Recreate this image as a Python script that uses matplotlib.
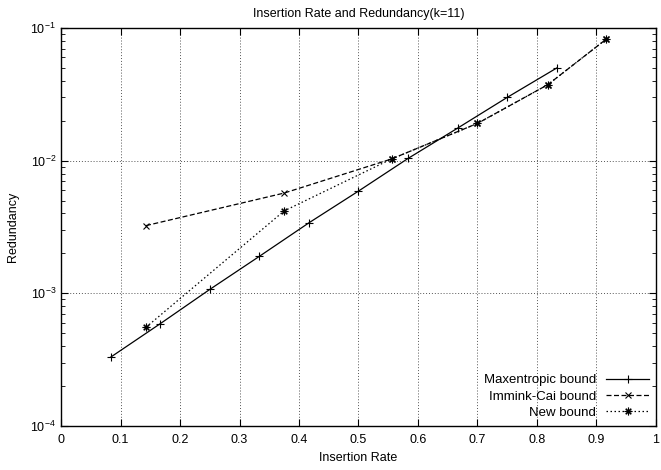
import numpy as np
import matplotlib
matplotlib.use("Agg")
import matplotlib.pyplot as plt
from matplotlib.ticker import FormatStrFormatter, LogLocator

plt.rcParams['font.family'] = ['Liberation Sans', 'DejaVu Sans']
plt.rcParams['font.size'] = 9
plt.rcParams['mathtext.fontset'] = 'custom'
plt.rcParams['mathtext.rm'] = 'Liberation Sans'

# donnees
x_maxent = [1/12, 2/12, 3/12, 4/12, 5/12, 6/12, 7/12, 8/12, 9/12, 10/12]
y_maxent = [3.3e-4, 5.9e-4, 1.07e-3, 1.9e-3, 3.4e-3, 5.9e-3, 1.04e-2, 1.76e-2, 3.0e-2, 5.0e-2]

x_immink = [1/7, 3/8, 5/9, 0.7, 9/11, 11/12]
y_immink = [3.24e-3, 5.7e-3, 1.03e-2, 1.91e-2, 3.74e-2, 8.26e-2]

x_new = [1/7, 3/8, 5/9, 0.7, 9/11, 11/12]
y_new = [5.55e-4, 4.18e-3, 1.03e-2, 1.91e-2, 3.74e-2, 8.26e-2]

labels = ['Maxentropic bound', 'Immink-Cai bound', 'New bound']

fig = plt.figure(figsize=(6.61, 4.70), dpi=100)
ax = fig.add_axes([0.0923, 0.0936, 0.9001, 0.8468])

ax.plot(x_maxent, y_maxent, color='k', lw=0.9, ls='-', marker='+', ms=5.5, mew=0.8, label=labels[0])
ax.plot(x_immink, y_immink, color='k', lw=0.9, ls=(0, (4, 2)), marker='x', ms=4.5, mew=0.8, label=labels[1])
ax.plot(x_new, y_new, color='k', lw=0.9, ls=(0, (1.2, 2)), marker=(8, 2, 0), ms=5.5, mew=0.8, label=labels[2])

ax.set_yscale('log')
ax.set_xlim(0, 1)
ax.set_ylim(1e-4, 1e-1)
ax.set_xticks(np.arange(0, 1.01, 0.1))
ax.xaxis.set_major_formatter(FormatStrFormatter('%g'))
ax.yaxis.set_minor_locator(LogLocator(base=10, subs=np.arange(2, 10), numticks=20))
ax.yaxis.set_minor_formatter(plt.NullFormatter())

ax.tick_params(which='both', direction='in', top=True, right=True)
ax.tick_params(which='major', length=5, width=0.8)
ax.tick_params(which='minor', length=3, width=0.6)
ax.tick_params(axis='x', pad=6)

ax.grid(True, which='major', color='#555555', ls=(0, (1, 2)), lw=0.7)
for s in ax.spines.values():
    s.set_linewidth(1.0)

ax.set_title('Insertion Rate and Redundancy(k=11)', fontsize=9, pad=8)
ax.set_xlabel('Insertion Rate', fontsize=9, labelpad=4)
ax.set_ylabel('Redundancy', fontsize=9, labelpad=8)

leg = ax.legend(loc='lower right', markerfirst=False, frameon=False, fontsize=9.5,
                handlelength=3.2, handletextpad=0.8, labelspacing=0.3, borderaxespad=0.15)
for t in leg.get_texts():
    t.set_ha('right')

fig.savefig('out.png', dpi=100)
